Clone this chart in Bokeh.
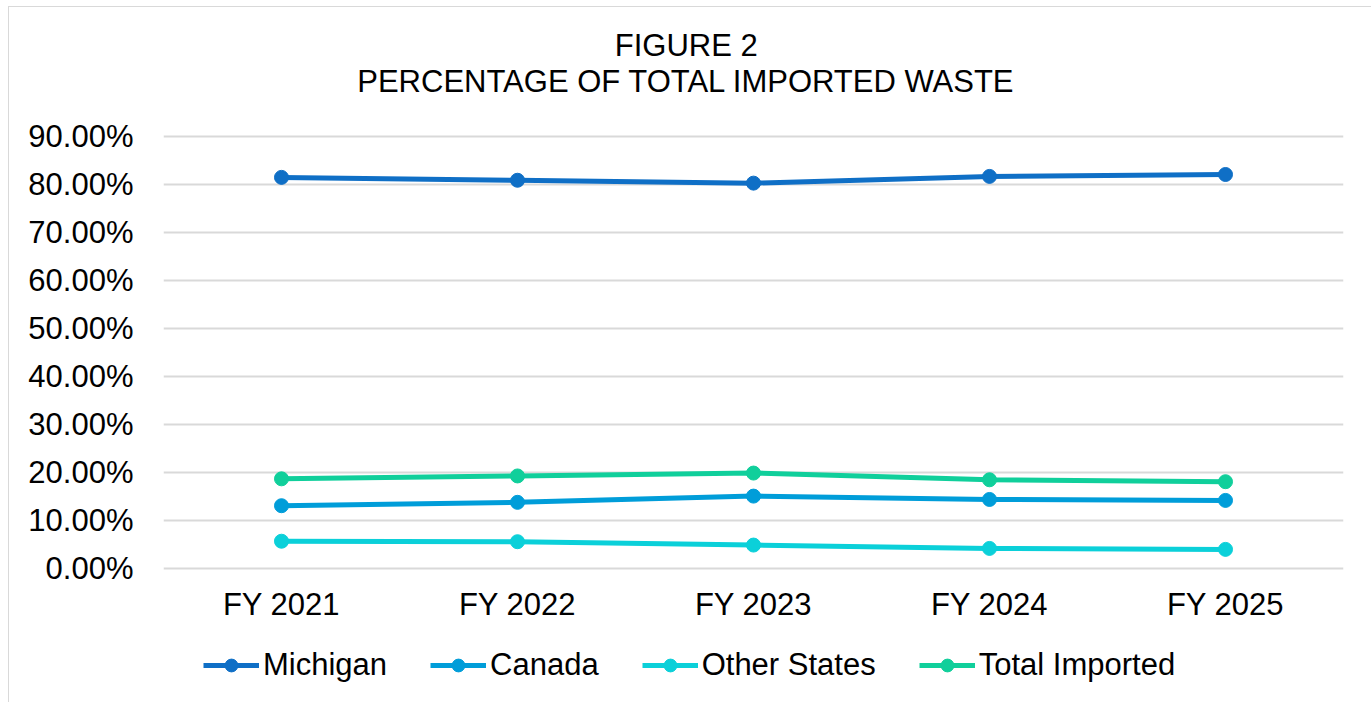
from bokeh.plotting import figure
from bokeh.models import FactorRange, Range1d, FixedTicker, PrintfTickFormatter, Legend, Label
from bokeh.embed import file_html
from bokeh.resources import INLINE

years = ["FY 2021", "FY 2022", "FY 2023", "FY 2024", "FY 2025"]
michigan = [81.4, 80.8, 80.2, 81.6, 82.0]
canada = [13.0, 13.7, 15.0, 14.3, 14.1]
other_states = [5.6, 5.5, 4.8, 4.1, 3.9]
total_imported = [18.6, 19.2, 19.8, 18.4, 18.0]
y_ticks = [0, 10, 20, 30, 40, 50, 60, 70, 80, 90]
title_lines = ["FIGURE 2", "PERCENTAGE OF TOTAL IMPORTED WASTE"]

series = [
    ("Michigan", michigan, "#0F6FC6"),
    ("Canada", canada, "#009DD9"),
    ("Other States", other_states, "#0BD0D9"),
    ("Total Imported", total_imported, "#10CF9B"),
]

FONT = "Liberation Sans"
FS = "31px"

# The frame spans the whole height of the chart box; the value scale is
# 4.8 px per percentage point, with 0% and 90% where the reference puts them.
p = figure(
    x_range=FactorRange(*years, range_padding=0),
    y_range=Range1d(-29.04, 116.79),
    frame_width=1180, frame_height=700,
    output_backend="svg", toolbar_location=None,
    min_border_left=154, min_border_right=28,
    min_border_top=0, min_border_bottom=0,
    margin=(6, 0, 0, 8),
)
p.styles = {"border": "1px solid #d9d9d9"}
p.outline_line_color = None
p.background_fill_color = "white"
p.border_fill_color = "white"

p.xgrid.grid_line_color = None
p.ygrid.ticker = FixedTicker(ticks=y_ticks)
p.ygrid.grid_line_color = "#d9d9d9"
p.ygrid.grid_line_width = 2
p.yaxis.ticker = FixedTicker(ticks=y_ticks)
p.yaxis.formatter = PrintfTickFormatter(format="%.2f%%")
p.xaxis.fixed_location = 0
for ax in (p.xaxis[0], p.yaxis[0]):
    ax.axis_line_color = None
    ax.major_tick_line_color = None
    ax.minor_tick_line_color = None
    ax.major_label_text_font = FONT
    ax.major_label_text_font_size = FS
    ax.major_label_text_color = "black"
p.yaxis.major_label_standoff = 24
p.xaxis.major_label_standoff = 13

# two-line centred title
for txt, ty in zip(title_lines, [108.85, 101.45]):
    p.add_layout(Label(x=2.215, y=ty, text=txt, text_align="center", text_baseline="alphabetic",
                       text_font=FONT, text_font_size=FS, text_color="black"))

items = []
for name, vals, color in series:
    r1 = p.line(years, vals, line_color=color, line_width=5)
    r2 = p.scatter(years, vals, marker="circle", size=14, fill_color=color, line_color=color)
    items.append((name, [r1, r2]))

legend = Legend(items=items, orientation="horizontal", location=(40, 24),
                label_text_font=FONT, label_text_font_size=FS, label_text_color="black",
                glyph_width=56, glyph_height=32, spacing=43, label_standoff=4,
                border_line_color=None, background_fill_alpha=0, margin=0, padding=0)
p.add_layout(legend, "center")

open("out.html", "w").write(file_html(p, INLINE))
